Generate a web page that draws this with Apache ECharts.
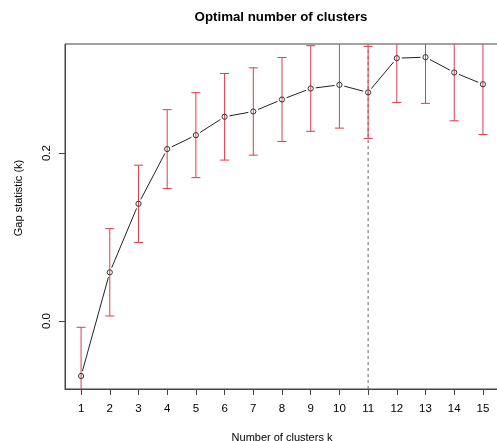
<!DOCTYPE html>
<html>
<head>
<meta charset="utf-8">
<script src="https://cdn.jsdelivr.net/npm/echarts@6/dist/echarts.min.js"></script>
<style>html,body{margin:0;padding:0;background:#fff}#c{width:497px;height:441px}</style>
</head>
<body>
<div id="c"></div>
<script>
var kValues = [1,2,3,4,5,6,7,8,9,10,11,12,13,14,15];
var gapValues = [-0.0655,0.058,0.1396,0.2048,0.2214,0.2433,0.2496,0.2639,0.277,0.2813,0.2723,0.3131,0.3143,0.2961,0.2821];
var seValues = [0.058,0.052,0.046,0.047,0.0506,0.0516,0.052,0.050,0.051,0.0515,0.0548,0.0527,0.055,0.0576,0.060];
var optimalK = 11;
var yTicks = [0.0, 0.2];
var titleText = 'Optimal number of clusters';
var xTitle = 'Number of clusters k';
var yTitle = 'Gap statistic (k)';

var FONT = '"Liberation Sans", Arial, sans-serif';
var chart = echarts.init(document.getElementById('c'));

var pts = kValues.map(function(k,i){return [k, gapValues[i]];});
var bars = kValues.map(function(k,i){return [k, gapValues[i]-seValues[i], gapValues[i]+seValues[i]];});

chart.setOption({
  animation: false,
  grid: {left: 65, top: 44, right: -2, bottom: 52, show: true, borderColor: '#444', borderWidth: 1,
    containLabel: false, outerBoundsMode: 'none'},
  xAxis: {type: 'value', min: 0.44, max: 15.56,
    name: xTitle, nameLocation: 'middle', nameGap: 43,
    nameTextStyle: {fontFamily: FONT, fontSize: 11, color: '#000'},
    axisLine: {show: true, onZero: false, lineStyle: {color: '#444'}},
    axisTick: {show: true, length: 6, customValues: kValues, lineStyle: {color: '#444'}},
    axisLabel: {customValues: kValues, fontFamily: FONT, fontSize: 11.5, color: '#000', margin: 14},
    splitLine: {show: false}},
  yAxis: {type: 'value', min: -0.081, max: 0.330,
    axisLine: {show: true, onZero: false, lineStyle: {color: '#444'}},
    axisTick: {show: true, length: 6, customValues: yTicks, lineStyle: {color: '#444'}},
    axisLabel: {customValues: yTicks, rotate: 90, fontFamily: FONT, fontSize: 11.5, color: '#000', margin: 12,
      formatter: function(v){return v.toFixed(1);}},
    splitLine: {show: false}},
  graphic: [
    {type: 'text', x: 281, y: 17,
      style: {text: titleText, font: 'bold 13.3px ' + FONT, fill: '#000', align: 'center', verticalAlign: 'middle'}},
    {type: 'text', x: 19, y: 198, rotation: Math.PI/2,
      style: {text: yTitle, font: '11px ' + FONT, fill: '#000', align: 'center', verticalAlign: 'middle'}}
  ],
  series: [
    {type: 'custom', clip: true, data: [[optimalK]], z: 1,
      renderItem: function(params, api){
        var x = api.coord([api.value(0), 0])[0];
        var cs = params.coordSys;
        return {type: 'line', shape: {x1: x, y1: cs.y, x2: x, y2: cs.y + cs.height},
          style: {stroke: '#666', lineWidth: 1, lineDash: [3, 3]}};
      }},
    {type: 'custom', clip: true, data: bars, z: 2,
      renderItem: function(params, api){
        var lo = api.coord([api.value(0), api.value(1)]);
        var hi = api.coord([api.value(0), api.value(2)]);
        var w = 4.5;
        var st = {stroke: '#DA3E4E', lineWidth: 1};
        return {type: 'group', children: [
          {type: 'line', shape: {x1: lo[0], y1: lo[1], x2: hi[0], y2: hi[1]}, style: st},
          {type: 'line', shape: {x1: lo[0]-w, y1: lo[1], x2: lo[0]+w, y2: lo[1]}, style: st},
          {type: 'line', shape: {x1: hi[0]-w, y1: hi[1], x2: hi[0]+w, y2: hi[1]}, style: st}
        ]};
      }},
    {type: 'custom', clip: true, data: pts, z: 3,
      renderItem: function(params, api){
        var i = params.dataIndex;
        var p = api.coord([api.value(0), api.value(1)]);
        var children = [{type: 'circle', shape: {cx: p[0], cy: p[1], r: 2.6},
          style: {fill: 'none', stroke: '#333', lineWidth: 1}}];
        if (i < pts.length - 1) {
          var q = api.coord(pts[i+1]);
          var dx = q[0]-p[0], dy = q[1]-p[1], L = Math.sqrt(dx*dx+dy*dy), g = 5;
          if (L > 2*g) {
            children.push({type: 'line', shape: {x1: p[0]+dx/L*g, y1: p[1]+dy/L*g, x2: q[0]-dx/L*g, y2: q[1]-dy/L*g},
              style: {stroke: '#222', lineWidth: 1}});
          }
        }
        return {type: 'group', children: children};
      }}
  ]
});
</script>
</body>
</html>
